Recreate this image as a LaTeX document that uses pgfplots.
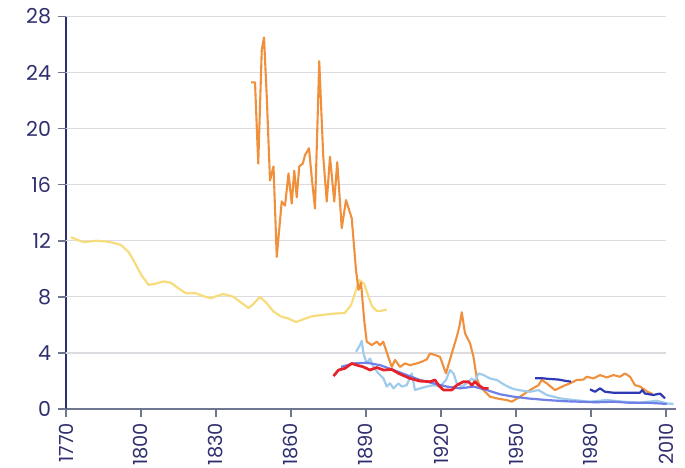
\documentclass[border=0pt]{standalone}
\usepackage{pgfplots}
\pgfplotsset{compat=1.18}
\usepackage{fontspec}
\setmainfont{Poppins}
\definecolor{navy}{HTML}{2F2F6F}
\definecolor{axgray}{HTML}{6F7690}
\definecolor{gridc}{HTML}{DCDCE0}
\definecolor{cOrange}{HTML}{F0903C}
\definecolor{cYellow}{HTML}{F7DC7E}
\definecolor{cRed}{HTML}{E62129}
\definecolor{cLight}{HTML}{9FCBED}
\definecolor{cMid}{HTML}{6F80E6}
\definecolor{cDark}{HTML}{2E39B5}
\begin{document}
\begin{tikzpicture}
\begin{axis}[
  name=ax,
  scale only axis,
  clip=false,
  width=305pt, height=196.3pt,
  xmin=1770, xmax=2014,
  ymin=0, ymax=28,
  xtick={1770,1800,...,2010},
  ytick={0,4,...,28},
  axis x line*=bottom,
  axis y line*=left,
  x axis line style={axgray, line width=0.8pt, -},
  y axis line style={navy, line width=0.7pt, -},
  tick align=outside,
  major tick length=3.8pt,
  tick style={axgray, line width=0.8pt},
  tick label style={font=\fontsize{10.3}{12}\selectfont, text=navy},
  xticklabel style={font=\fontsize{9.7}{12}\selectfont, rotate=90, anchor=east, inner sep=0pt},
  yticklabel style={anchor=east, inner sep=0pt},
  /pgf/number format/assume math mode=true,
  /pgf/number format/1000 sep={},
  xticklabel shift=3pt,
  yticklabel shift=3.5pt,
  every axis plot/.append style={line width=1.1pt, line join=round},
]
\pgfplotsinvokeforeach{4,8,...,28}{
  \draw[gridc, line width=0.6pt] (axis cs:1770,#1) -- (axis cs:2010,#1);
}
\pgfplotsinvokeforeach{1770,1800,...,2010}{
  \draw[axgray, line width=0.8pt] (axis cs:#1,0) -- ++(0pt,-3.8pt);
}
\pgfplotsinvokeforeach{0,4,...,28}{
  \draw[axgray, line width=0.8pt] (axis cs:1770,#1) -- ++(-3.8pt,0pt);
}
% yellow
\addplot[cYellow, no markers] coordinates {
(1772,12.25) (1774,12.1) (1777,11.9) (1782,12.0) (1786,11.95) (1789,11.85)
(1792,11.7) (1795,11.2) (1797,10.6) (1800,9.6) (1803,8.85) (1806,8.95)
(1809,9.1) (1812,9.0) (1815,8.6) (1818,8.25) (1822,8.25) (1825,8.05)
(1828,7.9) (1831,8.1) (1833,8.2) (1837,8.0) (1840,7.6) (1843,7.2)
(1845,7.5) (1847.6,8.0) (1850,7.6) (1853,6.95) (1856,6.6) (1859,6.45)
(1862,6.2) (1865,6.4) (1868,6.6) (1872,6.7) (1877,6.8) (1881.5,6.85)
(1884,7.4) (1885.5,8.2) (1887.3,9.2) (1889.2,8.95) (1891,8.0) (1892.5,7.3)
(1894.3,7.0) (1896,7.0) (1898.3,7.1)
};
% orange
\addplot[cOrange, no markers, line width=1.05pt] coordinates {
(1844,23.3) (1845.6,23.3) (1846.9,17.5) (1848.3,25.6) (1849.2,26.5) (1850.3,22.3)
(1851.6,16.3) (1853,17.3) (1854.3,10.85) (1856.3,14.8) (1857.6,14.5) (1859,16.8)
(1860.3,14.65) (1861.3,17.0) (1862.3,15.1) (1863.3,17.3) (1864.7,17.5) (1865.6,18.1)
(1867.2,18.6) (1868.3,16.5) (1869.6,14.3) (1871.3,24.8) (1872.9,18.0) (1874.3,14.8)
(1875.6,18.0) (1877.3,14.8) (1878.5,17.6) (1880.3,12.9) (1882,14.9) (1884.3,13.6)
(1886,9.9) (1887,8.5) (1888,9.0) (1889.3,6.3) (1890.3,4.8) (1892.3,4.56)
(1894.3,4.8) (1895.6,4.56) (1896.9,4.8) (1898.9,3.72) (1900.3,3.0) (1901.6,3.5)
(1903.6,3.0) (1905.6,3.25) (1907.6,3.13) (1910.3,3.25) (1912.3,3.37) (1914.3,3.54)
(1915.6,3.96) (1917.6,3.85) (1919.6,3.72) (1922,2.54) (1924.3,3.96) (1926.3,5.15)
(1927.5,6.0) (1928.3,6.9) (1929.6,5.4) (1931.6,4.7) (1933,3.72) (1934.3,2.2)
(1935.6,1.6) (1937.6,1.23) (1939.6,0.88) (1942.3,0.76) (1944,0.7) (1946.3,0.64)
(1948.3,0.52) (1951.6,0.88) (1955.6,1.35) (1959,1.7) (1960.3,2.07) (1962.3,1.83)
(1965.6,1.35) (1969,1.64) (1971.6,1.83) (1974.3,2.07) (1977,2.1) (1978.3,2.3)
(1981,2.18) (1983.6,2.42) (1986.3,2.25) (1989,2.42) (1991.6,2.3) (1993.6,2.54)
(1995.6,2.3) (1997.6,1.7) (1999.6,1.6) (2002.6,1.23) (2004.6,1.07)
};
% light blue
\addplot[cLight, no markers] coordinates {
(1886,4.08) (1887.6,4.56) (1888.3,4.86) (1889,3.96) (1890.3,3.25) (1891.6,3.6)
(1893,3.0) (1895,2.54) (1897,2.18) (1898.3,1.6) (1899.6,1.83) (1901,1.47)
(1903,1.83) (1904.3,1.6) (1906.3,1.7) (1908.3,2.54) (1909.6,1.35) (1911.6,1.47)
(1914.3,1.6) (1917,1.7) (1919.6,1.6) (1922,2.07) (1923.6,2.78) (1925,2.54)
(1926.3,1.83) (1928.3,1.6) (1930.3,1.83) (1932.3,2.18) (1933.6,1.95) (1935,2.54)
(1937,2.42) (1939.6,2.18) (1942.3,2.07) (1945.6,1.7) (1948.3,1.47) (1951,1.35)
(1955.6,1.23) (1959,1.35) (1962.3,1.0) (1967.6,0.76) (1973,0.64) (1979.6,0.52)
(1986.3,0.64) (1993,0.52) (1999.6,0.45) (2006.3,0.59) (2010.3,0.4) (2013,0.36)
};
% medium blue
\addplot[cMid, no markers] coordinates {
(1880,3.0) (1885,3.25) (1890.3,3.3) (1895.6,3.13) (1901,2.78) (1906.3,2.42)
(1911.6,2.07) (1917,1.83) (1922.3,1.6) (1927.6,1.47) (1933,1.6) (1938.3,1.35)
(1943.6,1.05) (1949,0.88) (1955,0.75) (1962.3,0.64) (1970,0.55) (1975.6,0.52)
(1982,0.48) (1989,0.52) (1995,0.45) (2002.3,0.45) (2007,0.4) (2010.3,0.36)
};
% red
\addplot[cRed, no markers, line width=1.35pt] coordinates {
(1877,2.35) (1879,2.78) (1881.6,2.9) (1884.3,3.25) (1886.3,3.13) (1889,3.0)
(1891.6,2.78) (1894.3,2.96) (1897,2.78) (1900.3,2.82) (1903,2.54) (1907.6,2.18)
(1911.6,1.99) (1915.6,1.95) (1917.6,2.07) (1919,1.7) (1921,1.35) (1924.3,1.35)
(1926.3,1.7) (1929,1.95) (1931,1.95) (1932.3,1.7) (1933.6,1.95) (1935,1.7)
(1937,1.47) (1939,1.47)
};
% dark blue
\addplot[cDark, no markers] coordinates {
(1957.6,2.2) (1960,2.2) (1963,2.15) (1967,2.1) (1970,2.0) (1972,1.95)
};
\addplot[cDark, no markers] coordinates {
(1979.6,1.4) (1981.6,1.23) (1983.6,1.47) (1985.6,1.23) (1989,1.16) (1995,1.16)
(1999.6,1.16) (2000.5,1.35) (2001.6,1.1) (2005,1.0) (2007.6,1.1) (2009.6,0.76)
};
\end{axis}
\pgfresetboundingbox
\path (ax.south west) ++(-33pt,-29pt) rectangle ++(342.5pt,233.5pt);
\end{tikzpicture}
\end{document}
